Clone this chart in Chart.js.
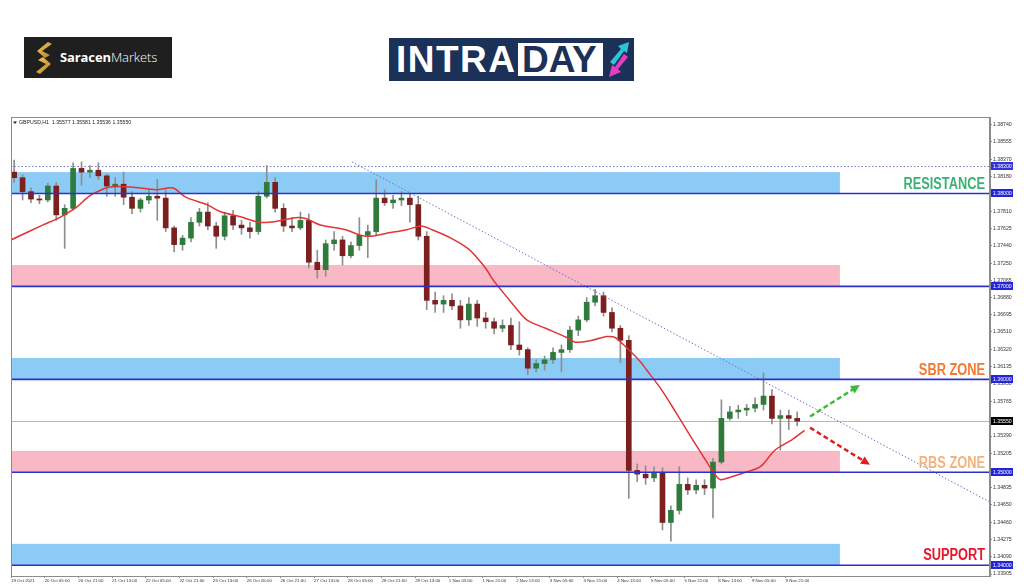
<!DOCTYPE html>
<html>
<head>
<meta charset="utf-8">
<script src="https://cdn.jsdelivr.net/npm/chart.js@4.4.0/dist/chart.umd.min.js"></script>
<style>
    html, body { margin: 0; padding: 0; background: #fff; }
    #page { position: relative; width: 1024px; height: 587px; overflow: hidden; }
    #chart { position: absolute; left: 0; top: 0; }
    .saracen { position: absolute; left: 24px; top: 37px; width: 148px; height: 41px; background: #1f1f1f; }
    .saracen .name { position: absolute; left: 36px; top: 11px; line-height: 18px; font-family: "Open Sans", sans-serif; font-size: 13px; color: #fff; letter-spacing: -0.1px; }
    .saracen .name span { font-weight: 300; }
    .intraday { position: absolute; left: 389px; top: 38px; width: 245px; height: 43px; background: #1c3158; }
    .intraday .intra { position: absolute; left: 7px; top: 3px; line-height: 37px; font-family: "Liberation Sans", sans-serif; font-weight: bold; font-size: 37px; color: #fff; letter-spacing: 1.5px; }
    .intraday .day { position: absolute; left: 129px; top: 5px; width: 85px; height: 33px; background: #fff; }
    .intraday .day span { position: absolute; left: 4px; top: -2px; line-height: 37px; font-family: "Liberation Sans", sans-serif; font-weight: bold; font-size: 37px; color: #1c3158; }
</style>
</head>
<body>
<div id="page">
    <div class="saracen">
        <svg width="22" height="32" style="position:absolute;left:9px;top:5px">
            <defs>
                <linearGradient id="gold" x1="0" y1="0" x2="1" y2="1">
                    <stop offset="0" stop-color="#f6cc62"/>
                    <stop offset="1" stop-color="#b37b1e"/>
                </linearGradient>
            </defs>
            <path d="M15 0 L4 9 L12 16 L17 13 L9 9 L19 2 Z" fill="url(#gold)"/>
            <path d="M7 32 L18 22 L10 15 L5 18 L13 22 L3 30 Z" fill="url(#gold)"/>
        </svg>
        <div class="name"><b>Saracen</b><span>Markets</span></div>
    </div>
    <div class="intraday">
        <div class="intra">INTRA</div>
        <div class="day"><span>DAY</span></div>
        <svg width="30" height="43" style="position:absolute;left:215px;top:0">
            <path d="M6 24 L17 11 L14 8 L25 4 L23 15 L20 13 L10 27 Z" fill="#2fc3d8"/>
            <path d="M24 19 L14 31 L17 34 L5 39 L8 27 L11 29 L20 16 Z" fill="#e23dc5"/>
        </svg>
    </div>
    <canvas id="chart" width="1024" height="587"></canvas>
</div>
<script>
// GBPUSD H1, one candle per 4 bars
const BARS_PER_CANDLE = 4;

const OPEN = [1.3823,1.3817,1.3802,1.3794,1.3793,1.3808,1.3777,1.3784,1.3827,1.3823,
    1.3825,1.3819,1.3808,1.3810,1.3796,1.3784,1.3793,1.3797,1.3795,1.3763,
    1.3745,1.3752,1.3769,1.3780,1.3765,1.3754,1.3776,1.3766,1.3763,1.3759,
    1.3797,1.3812,1.3784,1.3765,1.3763,1.3771,1.3726,1.3718,1.3746,1.3750,
    1.3733,1.3744,1.3755,1.3759,1.3795,1.3790,1.3793,1.3795,1.3788,1.3754,
    1.3685,1.3681,1.3685,1.3679,1.3664,1.3681,1.3666,1.3662,1.3655,1.3658,
    1.3637,1.3632,1.3612,1.3617,1.3621,1.3629,1.3632,1.3653,1.3664,1.3683,
    1.3690,1.3672,1.3655,1.3642,1.3502,1.3498,1.3494,1.3500,1.3446,1.3459,
    1.3487,1.3481,1.3486,1.3483,1.3511,1.3558,1.3565,1.3567,1.3569,1.3573,
    1.3582,1.3558,1.3561,1.3558];
const HIGH = [1.3836,1.3820,1.3806,1.3798,1.3811,1.3812,1.3788,1.3833,1.3834,1.3830,
    1.3833,1.3821,1.3817,1.3823,1.3802,1.3795,1.3804,1.3815,1.3804,1.3765,
    1.3755,1.3774,1.3784,1.3790,1.3769,1.3780,1.3782,1.3771,1.3769,1.3802,
    1.3830,1.3817,1.3789,1.3774,1.3780,1.3778,1.3739,1.3750,1.3759,1.3754,
    1.3748,1.3774,1.3766,1.3815,1.3804,1.3798,1.3802,1.3799,1.3797,1.3759,
    1.3694,1.3690,1.3692,1.3685,1.3688,1.3685,1.3672,1.3666,1.3664,1.3666,
    1.3662,1.3634,1.3621,1.3625,1.3634,1.3637,1.3657,1.3668,1.3688,1.3697,
    1.3694,1.3677,1.3658,1.3647,1.3509,1.3507,1.3506,1.3505,1.3464,1.3506,
    1.3494,1.3492,1.3492,1.3515,1.3578,1.3571,1.3572,1.3573,1.3580,1.3607,
    1.3589,1.3567,1.3567,1.3565];
const LOW = [1.3812,1.3793,1.3790,1.3789,1.3791,1.3771,1.3741,1.3782,1.3809,1.3817,
    1.3815,1.3797,1.3797,1.3788,1.3778,1.3780,1.3789,1.3771,1.3759,1.3737,
    1.3739,1.3748,1.3765,1.3761,1.3741,1.3750,1.3761,1.3756,1.3752,1.3756,
    1.3795,1.3780,1.3759,1.3759,1.3761,1.3720,1.3709,1.3711,1.3739,1.3723,
    1.3731,1.3739,1.3731,1.3755,1.3787,1.3784,1.3787,1.3769,1.3750,1.3675,
    1.3672,1.3672,1.3675,1.3655,1.3658,1.3657,1.3655,1.3649,1.3651,1.3632,
    1.3626,1.3605,1.3608,1.3610,1.3617,1.3608,1.3629,1.3647,1.3662,1.3679,
    1.3668,1.3651,1.3618,1.3472,1.3490,1.3487,1.3490,1.3438,1.3426,1.3455,
    1.3476,1.3477,1.3476,1.3451,1.3509,1.3556,1.3558,1.3561,1.3565,1.3567,
    1.3552,1.3524,1.3546,1.3550];
const CLOSE = [1.3817,1.3802,1.3794,1.3793,1.3808,1.3777,1.3784,1.3827,1.3823,1.3825,
    1.3819,1.3808,1.3810,1.3796,1.3784,1.3793,1.3797,1.3795,1.3763,1.3745,
    1.3752,1.3769,1.3780,1.3765,1.3754,1.3776,1.3766,1.3763,1.3759,1.3797,
    1.3812,1.3784,1.3765,1.3763,1.3771,1.3726,1.3718,1.3746,1.3750,1.3733,
    1.3744,1.3755,1.3759,1.3795,1.3790,1.3793,1.3795,1.3788,1.3754,1.3685,
    1.3681,1.3685,1.3679,1.3664,1.3681,1.3666,1.3662,1.3655,1.3658,1.3637,
    1.3632,1.3612,1.3617,1.3621,1.3629,1.3632,1.3653,1.3664,1.3683,1.3690,
    1.3672,1.3655,1.3642,1.3502,1.3498,1.3494,1.3500,1.3446,1.3459,1.3487,
    1.3481,1.3486,1.3483,1.3511,1.3558,1.3565,1.3567,1.3569,1.3573,1.3582,
    1.3558,1.3561,1.3558,1.3555];

// moving average, read at bar positions
const MA_X = [0,15,23,31,37,43,47,57,69,77,83,93,100,109,118,126,135,140,147,159,
    166,171,178,188,195,200,209,217,221,226,229,238,245,254,264,268,276,283,287,292,
    299,302,309,316,323,330,334,337,342,349,356,363,371,377];
const MA_Y = [1.3750,1.3766,1.3774,1.3785,1.3797,1.3804,1.3807,1.3807,1.3804,1.3806,
    1.3796,1.3788,1.3780,1.3775,1.3769,1.3770,1.3774,1.3773,1.3766,1.3761,
    1.3755,1.3754,1.3757,1.3761,1.3765,1.3761,1.3752,1.3741,1.3732,1.3718,
    1.3707,1.3682,1.3664,1.3655,1.3645,1.3640,1.3642,1.3646,1.3645,1.3635,
    1.3619,1.3610,1.3589,1.3564,1.3538,1.3513,1.3499,1.3492,1.3495,1.3500,
    1.3506,1.3524,1.3535,1.3545];

const TIME_TICKS = [0,16,32,48,64,80,96,112,128,144,160,176,192,208,224,240,256,272,288,304,320,336,352,368];
const TIME_LABELS = ['19 Oct 2021','20 Oct 05:00','20 Oct 21:00','21 Oct 13:00','22 Oct 05:00','22 Oct 21:00',
    '25 Oct 13:00','26 Oct 05:00','26 Oct 21:00','27 Oct 13:00','28 Oct 05:00','28 Oct 21:00',
    '29 Oct 13:00','1 Nov 05:00','1 Nov 21:00','2 Nov 13:00','3 Nov 05:00','3 Nov 21:00',
    '4 Nov 13:00','5 Nov 05:00','5 Nov 21:00','8 Nov 13:00','9 Nov 05:00','9 Nov 21:00'];
const PRICE_TICKS = [1.38740,1.38555,1.38370,1.38180,1.37810,1.37625,1.37440,1.37250,1.37065,
    1.36880,1.36695,1.36510,1.36320,1.36135,1.35950,1.35765,1.35390,1.35205,1.34835,
    1.34650,1.34460,1.34275,1.34090,1.33905];

// levels and zones
const LEVELS = [1.38, 1.37, 1.36, 1.35, 1.34];
const ZONE_KIND = ['blue', 'pink', 'blue', 'pink', 'blue'];
const ZONE_DEPTH = 0.0023;
const ZONE_END = 393.8;
const DOTTED_LEVEL = 1.383;
const LAST_PRICE = 1.3555;
const TREND = [{x: 162, y: 1.3834}, {x: 465.1, y: 1.3468}];
const ZONE_LABELS = [
    {text: 'RESISTANCE', level: 1.38, color: '#3bb273'},
    {text: 'SBR ZONE', level: 1.36, color: '#f27a30'},
    {text: 'RBS ZONE', level: 1.35, color: '#f6b27c'},
    {text: 'SUPPORT', level: 1.34, color: '#e5172e'}
];
const ARROWS = [
    {from: [379.6, 1.3560], to: [403.3, 1.3594], color: '#3dba3d'},
    {from: [379.6, 1.3548], to: [408.1, 1.3508], color: '#e0201c'}
];

const X_MIN = 0, X_MAX = 465.1;
const Y_MIN = 1.33884, Y_MAX = 1.38823;

const candleX = CLOSE.map((c, i) => i * BARS_PER_CANDLE + 1.5);
const wickData = candleX.map((x, i) => ({x: x, y: [LOW[i], HIGH[i]]}));
const bodyData = candleX.map((x, i) => ({x: x, y: [OPEN[i], CLOSE[i]]}));
const bodyColors = CLOSE.map((c, i) => c >= OPEN[i] ? '#2f7b3b' : '#7c1f1f');

function drawArrow(ctx, x1, y1, x2, y2, color) {
    const ang = Math.atan2(y2 - y1, x2 - x1);
    const hl = 10;
    ctx.strokeStyle = color;
    ctx.fillStyle = color;
    ctx.lineWidth = 2.5;
    ctx.setLineDash([5, 3]);
    ctx.beginPath();
    ctx.moveTo(x1, y1);
    ctx.lineTo(x2 - Math.cos(ang) * hl * 0.8, y2 - Math.sin(ang) * hl * 0.8);
    ctx.stroke();
    ctx.setLineDash([]);
    ctx.beginPath();
    ctx.moveTo(x2, y2);
    ctx.lineTo(x2 - hl * Math.cos(ang - 0.45), y2 - hl * Math.sin(ang - 0.45));
    ctx.lineTo(x2 - hl * Math.cos(ang + 0.45), y2 - hl * Math.sin(ang + 0.45));
    ctx.closePath();
    ctx.fill();
}

function priceBox(ctx, y, value, bg) {
    ctx.fillStyle = bg;
    ctx.fillRect(991, Math.round(y) - 4, 22, 8);
    ctx.fillStyle = '#fff';
    ctx.font = '5.2px "Liberation Sans"';
    ctx.textAlign = 'left';
    ctx.textBaseline = 'middle';
    ctx.fillText(value.toFixed(5), 993, Math.round(y) + 0.5);
}

const overlay = {
    id: 'overlay',
    beforeDatasetsDraw(chart) {
        const {ctx, chartArea: a, scales: {x, y}} = chart;
        ctx.save();
        const right = x.getPixelForValue(ZONE_END);
        LEVELS.forEach((lv, i) => {
            const top = y.getPixelForValue(lv + ZONE_DEPTH);
            const bot = y.getPixelForValue(lv);
            ctx.fillStyle = ZONE_KIND[i] === 'blue' ? '#8ccbf6' : '#f8b8c6';
            ctx.fillRect(a.left, top, right - a.left, bot - top);
        });
        // dotted level
        ctx.strokeStyle = '#7c7cd0';
        ctx.lineWidth = 1;
        ctx.setLineDash([1.5, 2]);
        const dy = Math.round(y.getPixelForValue(DOTTED_LEVEL)) + 0.5;
        ctx.beginPath();
        ctx.moveTo(a.left, dy);
        ctx.lineTo(a.right, dy);
        ctx.stroke();
        ctx.setLineDash([]);
        // last price
        ctx.strokeStyle = '#b8b8b8';
        const ly = Math.round(y.getPixelForValue(LAST_PRICE)) + 0.5;
        ctx.beginPath();
        ctx.moveTo(a.left, ly);
        ctx.lineTo(a.right, ly);
        ctx.stroke();
        ctx.restore();
    },
    afterDatasetsDraw(chart) {
        const {ctx, chartArea: a, scales: {x, y}} = chart;
        ctx.save();
        ctx.strokeStyle = '#2c30cc';
        ctx.lineWidth = 1.6;
        LEVELS.forEach(lv => {
            const py = y.getPixelForValue(lv);
            ctx.beginPath();
            ctx.moveTo(a.left, py);
            ctx.lineTo(a.right, py);
            ctx.stroke();
        });
        ARROWS.forEach(ar => {
            drawArrow(ctx, x.getPixelForValue(ar.from[0]), y.getPixelForValue(ar.from[1]),
                x.getPixelForValue(ar.to[0]), y.getPixelForValue(ar.to[1]), ar.color);
        });
        // condensed heavy labels: squeeze a bold face horizontally
        ctx.font = 'bold 16px "Liberation Sans", sans-serif';
        ctx.textAlign = 'right';
        ctx.textBaseline = 'middle';
        ZONE_LABELS.forEach(l => {
            ctx.save();
            ctx.translate(985, y.getPixelForValue(l.level + ZONE_DEPTH / 2) + 1.5);
            ctx.scale(0.8, 1);
            ctx.fillStyle = l.color;
            ctx.fillText(l.text, 0, 0);
            ctx.restore();
        });
        ctx.restore();
    },
    afterDraw(chart) {
        const {ctx, chartArea: a, scales: {y}} = chart;
        ctx.save();
        ctx.strokeStyle = '#8c8c8c';
        ctx.lineWidth = 1;
        ctx.strokeRect(a.left + 0.5, a.top + 0.5, a.right - a.left - 1, a.bottom - a.top);
        // symbol line
        ctx.fillStyle = '#222';
        ctx.beginPath();
        ctx.moveTo(13, 121.5);
        ctx.lineTo(17, 121.5);
        ctx.lineTo(15, 124);
        ctx.closePath();
        ctx.fill();
        ctx.font = '5.2px "Liberation Sans"';
        ctx.textAlign = 'left';
        ctx.textBaseline = 'middle';
        ctx.fillText('GBPUSD,H1  1.35577 1.35581 1.35536 1.35550', 19, 123);
        priceBox(ctx, y.getPixelForValue(DOTTED_LEVEL), DOTTED_LEVEL, '#3434d6');
        LEVELS.forEach(lv => priceBox(ctx, y.getPixelForValue(lv), lv, '#2424d8'));
        priceBox(ctx, y.getPixelForValue(LAST_PRICE), LAST_PRICE, '#000');
        ctx.restore();
    }
};

const config = {
    type: 'bar',
    data: {
        datasets: [{
            type: 'line',
            data: MA_X.map((v, i) => ({x: v, y: MA_Y[i]})),
            borderColor: '#e23434',
            borderWidth: 1.5,
            pointRadius: 0,
            tension: 0.3
        }, {
            type: 'line',
            data: TREND,
            borderColor: '#7272c6',
            borderWidth: 1,
            borderDash: [1.5, 2],
            pointRadius: 0
        }, {
            data: bodyData,
            backgroundColor: bodyColors,
            barThickness: 5,
            minBarLength: 1,
            grouped: false
        }, {
            data: wickData,
            backgroundColor: '#8e8e8e',
            barThickness: 1,
            grouped: false
        }]
    },
    plugins: [overlay],
    options: {
        responsive: false,
        animation: false,
        events: [],
        layout: {padding: {left: 11, top: 117, right: 0, bottom: 0}},
        plugins: {legend: {display: false}, tooltip: {enabled: false}},
        scales: {
            x: {
                type: 'linear',
                min: X_MIN,
                max: X_MAX,
                offset: false,
                grid: {offset: false, drawOnChartArea: false, tickLength: 2, color: '#8c8c8c'},
                border: {color: '#8c8c8c'},
                afterBuildTicks: s => { s.ticks = TIME_TICKS.map(v => ({value: v})); },
                afterFit: s => { s.height = 11; },
                ticks: {
                    autoSkip: false,
                    maxRotation: 0,
                    align: 'start',
                    padding: 0,
                    color: '#333',
                    font: {family: '"Liberation Sans"', size: 4.4},
                    callback: (v, i) => TIME_LABELS[i]
                }
            },
            y: {
                type: 'linear',
                position: 'right',
                min: Y_MIN,
                max: Y_MAX,
                beginAtZero: false,
                grid: {drawOnChartArea: false, tickLength: 2, color: '#8c8c8c'},
                border: {color: '#8c8c8c'},
                afterBuildTicks: s => { s.ticks = PRICE_TICKS.map(v => ({value: v})); },
                afterFit: s => { s.width = 34; },
                ticks: {
                    autoSkip: false,
                    padding: 1,
                    color: '#333',
                    font: {family: '"Liberation Sans"', size: 5.2},
                    callback: v => v.toFixed(5)
                }
            }
        }
    }
};

new Chart(document.getElementById('chart').getContext('2d'), config);
</script>
</body>
</html>
